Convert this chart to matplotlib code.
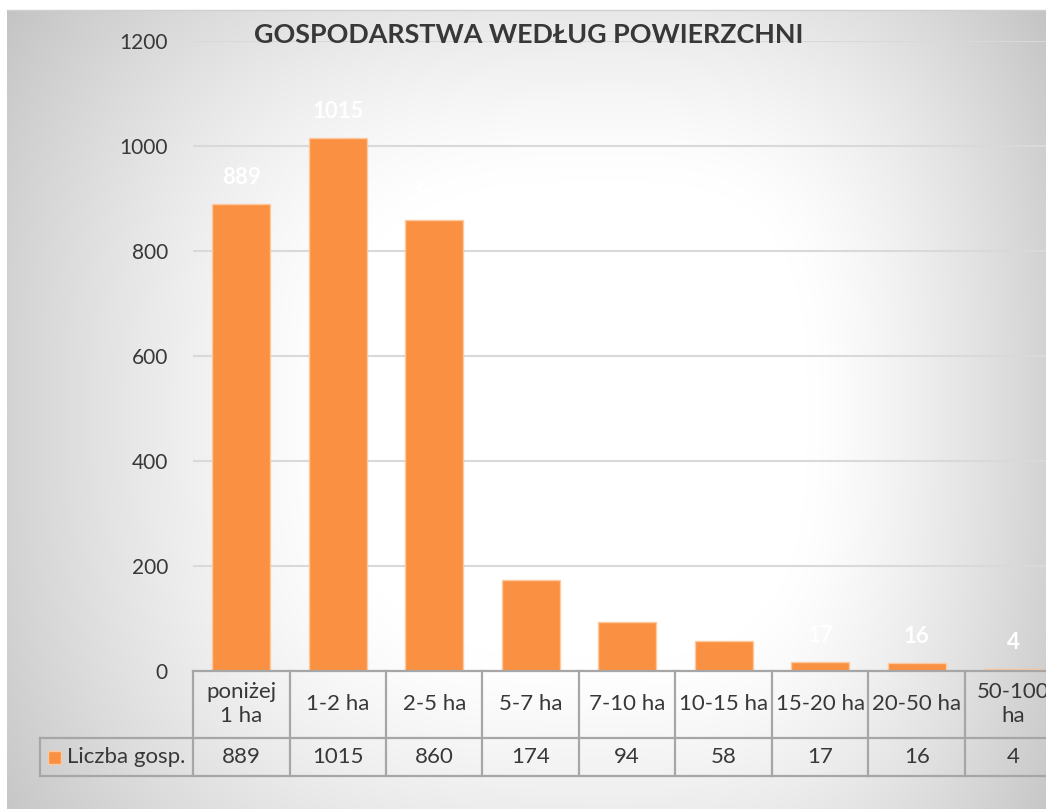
import matplotlib
matplotlib.use('Agg')
from matplotlib import pyplot
import matplotlib.transforms as transforms
from matplotlib.patches import Rectangle
import numpy

categories = ['poniżej\n1 ha', '1-2 ha', '2-5 ha', '5-7 ha', '7-10 ha',
              '10-15 ha', '15-20 ha', '20-50 ha', '50-100\nha']
values = [889, 1015, 860, 174, 94, 58, 17, 16, 4]
series_name = 'Liczba gosp.'
y_ticks = [0, 200, 400, 600, 800, 1000, 1200]
title = 'GOSPODARSTWA WEDŁUG POWIERZCHNI'

pyplot.rcParams['font.family'] = ['Lato', 'DejaVu Sans']
W, H = 1046, 809
text_col = '#383838'
bar_col = '#fa9142'
line_col = '#a6a6a6'

fig = pyplot.figure(figsize=(W / 100, H / 100), dpi=100)
fig.patch.set_facecolor('white')

# grey path gradient like the excel chart area, white in the middle
yy, xx = numpy.mgrid[0:H, 0:W].astype(float)
cx, cy = 610.0, 410.0
rx = numpy.where(xx < cx, cx - 7, W - cx)
ry = numpy.where(yy < cy, 510.0, 550.0)
d = (numpy.abs((xx - cx) / rx) ** 3 + numpy.abs((yy - cy) / ry) ** 3) ** (1 / 3)
t = numpy.clip((d - 0.45) / 0.55, 0, None)
grey = 255 - 44 * t ** 1.3
grey[(xx < 7) | (yy < 10)] = 255
img = numpy.clip(grey, 0, 255) / 255.0
bg = fig.add_axes([0, 0, 1, 1])
bg.imshow(numpy.dstack([img, img, img]), aspect='auto', interpolation='bilinear',
          extent=(0, W, H, 0))
bg.plot([7, W], [10, 10], color='#d0d0d0', lw=1)
bg.set_xlim(0, W)
bg.set_ylim(H, 0)
bg.axis('off')

cat_w = 96.5
ax = fig.add_axes([193 / W, (H - 671) / H, cat_w * 9 / W, 630 / H])
ax.patch.set_alpha(0)
x = numpy.arange(len(values))
ax.bar(x, values, width=0.6, color=bar_col, edgecolor='#fcc9a0', linewidth=1, zorder=3)
ax.set_xlim(-0.5, 8.5)
ax.set_ylim(0, 1200)
ax.set_yticks(y_ticks)
ax.set_yticklabels([str(t) for t in y_ticks], fontsize=15, color=text_col)
ax.tick_params(axis='y', length=0, pad=18)
ax.set_xticks([])
for s in ax.spines.values():
    s.set_visible(False)
ax.grid(axis='y', color='#d9d9d9', linewidth=1.5, zorder=0)

for xi, v in zip(x, values):
    ax.annotate(str(v), (xi, v), xytext=(0, 19), textcoords='offset points',
                ha='center', va='center', fontsize=16, fontweight='bold', color='white')

fig.text(529 / W, 1 - 35 / H, title, ha='center', va='center', fontsize=19.4,
         fontweight='bold', color=text_col)

# data table under the axis
tr = transforms.blended_transform_factory(ax.transData, ax.transAxes)
r1 = -67 / 630
r2 = -105 / 630
leg_left = (40 - 193) / cat_w - 0.5
kw = dict(color=line_col, lw=1.6, transform=tr, clip_on=False, zorder=4)
ax.plot([-0.5, 8.5], [0, 0], **kw)
ax.plot([leg_left, 8.5], [r1, r1], **kw)
ax.plot([leg_left, 8.5], [r2, r2], **kw)
ax.plot([leg_left, leg_left], [r1, r2], **kw)
for b in numpy.arange(-0.5, 9.0, 1.0):
    ax.plot([b, b], [0, r2], **kw)
for xi, c, v in zip(x, categories, values):
    ax.text(xi, r1 / 2, c, transform=tr, ha='center', va='center', fontsize=16,
            color=text_col, linespacing=1.25, clip_on=False)
    ax.text(xi, (r1 + r2) / 2, str(v), transform=tr, ha='center', va='center',
            fontsize=16, color=text_col, clip_on=False)
fig.add_artist(Rectangle((48 / W, 1 - 764 / H), 13 / W, 13 / H, transform=fig.transFigure,
                         facecolor=bar_col, edgecolor='#fcc9a0', lw=1))
fig.text(67 / W, 1 - 757 / H, series_name, ha='left', va='center', fontsize=16, color=text_col)

fig.savefig('out.png', dpi=100)
